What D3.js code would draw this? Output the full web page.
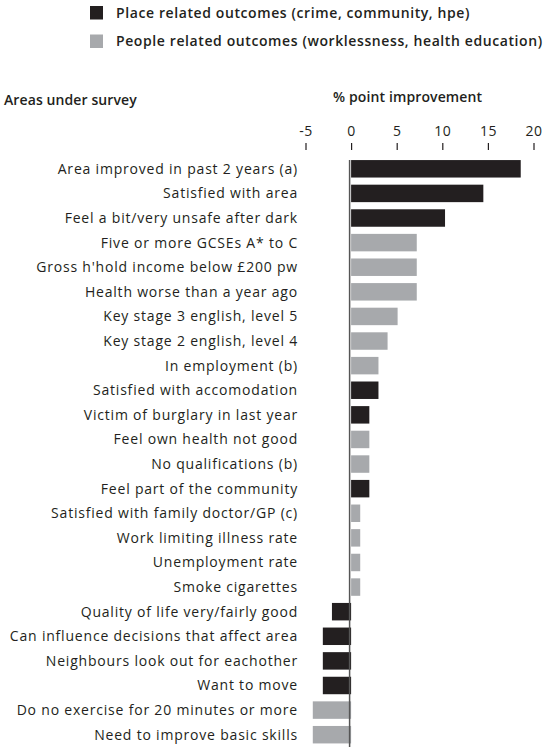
<!DOCTYPE html>
<html><head><meta charset="utf-8">
<script src="https://cdn.jsdelivr.net/npm/d3@7"></script>
<style>body{margin:0;background:#fff}svg{display:block}</style>
</head><body>
<script>
const categories = ["Area improved in past 2 years (a)","Satisfied with area","Feel a bit/very unsafe after dark","Five or more GCSEs A* to C","Gross h'hold income below £200 pw","Health worse than a year ago","Key stage 3 english, level 5","Key stage 2 english, level 4","In employment (b)","Satisfied with accomodation","Victim of burglary in last year","Feel own health not good","No qualifications (b)","Feel part of the community","Satisfied with family doctor/GP (c)","Work limiting illness rate","Unemployment rate","Smoke cigarettes","Quality of life very/fairly good","Can influence decisions that affect area","Neighbours look out for eachother","Want to move","Do no exercise for 20 minutes or more","Need to improve basic skills"];
const values = [18.6,14.5,10.3,7.2,7.2,7.2,5.1,4.0,3.0,3.0,2.0,2.0,2.0,2.0,1.0,1.0,1.0,1.0,-2.1,-3.1,-3.1,-3.1,-4.2,-4.2];
const groups = ["place","place","place","people","people","people","people","people","people","place","place","people","people","place","people","people","people","people","place","place","place","place","people","people"];
const seriesNames = ["Place related outcomes (crime, community, hpe)","People related outcomes (worklessness, health education)"];
const seriesKeys = ["place","people"];
const tickValues = [-5,0,5,10,15,20];

const W=547,H=747;
const font="'Open Sans', sans-serif";
const ink="#231f20";
const color=d3.scaleOrdinal().domain(seriesKeys).range(["#231f20","#a7a9ac"]);
const svg=d3.select("body").append("svg").attr("width",W).attr("height",H).style("font-family",font);

const x=d3.scaleLinear().domain([-5,20]).range([305.5,533.5]);
const y=d3.scaleBand().domain(categories).range([156.5,747]).paddingInner(0.29).paddingOuter(0.145);

// legend
const lg=svg.append("g");
seriesKeys.forEach((k,i)=>{
  lg.append("rect").attr("x",90).attr("y",6+i*28.5).attr("width",13).attr("height",13.5).attr("fill",color(k));
  lg.append("text").attr("x",116).attr("y",17.5+i*28.5).attr("font-size",14).attr("font-weight",600)
    .attr("letter-spacing",0.6).attr("fill",ink).text(seriesNames[i]);
});

svg.append("text").attr("x",4).attr("y",105).attr("font-size",14).attr("font-weight",600).attr("letter-spacing",0.1).attr("fill",ink).text("Areas under survey");
svg.append("text").attr("x",333).attr("y",102).attr("font-size",14).attr("font-weight",600).attr("letter-spacing",0.12).attr("fill",ink).text("% point improvement");

// axis
const ax=svg.append("g").attr("transform","translate(0,150)")
  .call(d3.axisTop(x).tickValues(tickValues).tickSize(7).tickPadding(7).tickFormat(d=>d));
ax.select(".domain").remove();
ax.selectAll(".tick line").attr("stroke",ink).attr("stroke-width",1.2);
ax.selectAll(".tick text").attr("font-size",14).attr("font-family",font).attr("fill",ink).attr("letter-spacing",0.5);

// bars
svg.append("g").selectAll("rect").data(categories).join("rect")
  .attr("x",(d,i)=>x(Math.min(0,values[i])))
  .attr("width",(d,i)=>Math.abs(x(values[i])-x(0)))
  .attr("y",d=>y(d)).attr("height",y.bandwidth())
  .attr("fill",(d,i)=>color(groups[i]));

// zero line
svg.append("line").attr("x1",x(0)-1.5).attr("x2",x(0)-1.5).attr("y1",y(categories[0])).attr("y2",H)
  .attr("stroke","#555").attr("stroke-width",1.5);

// category labels
svg.append("g").selectAll("text").data(categories).join("text")
  .attr("x",298).attr("y",d=>y(d)+y.bandwidth()/2).attr("dy","0.35em")
  .attr("text-anchor","end").attr("font-size",14).attr("letter-spacing",0.8).attr("fill",ink).text(d=>d);
</script>
</body></html>
